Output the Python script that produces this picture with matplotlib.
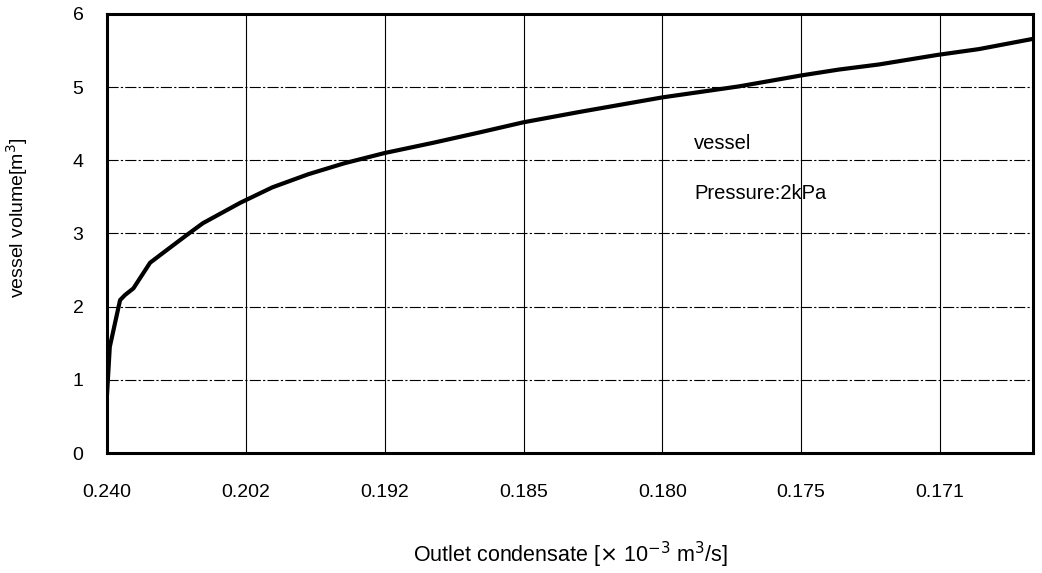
import matplotlib.pyplot as plt

plt.rcParams['font.family'] = ['Liberation Sans', 'DejaVu Sans']

# tick labels (equally spaced on the axis)
tick_labels = ['0.240', '0.202', '0.192', '0.185', '0.180', '0.175', '0.171']

# curve, x in tick-index units
curve_x = [0.0, 0.02, 0.094, 0.13, 0.19, 0.31, 0.40, 0.575, 0.69, 0.96,
           1.19, 1.45, 1.71, 2.0, 2.35, 2.68, 3.0, 3.40, 4.0, 4.55, 5.0,
           5.27, 5.56, 5.98, 6.28, 6.67]
curve_y = [0.8, 1.45, 2.09, 2.16, 2.25, 2.6, 2.73, 2.98, 3.14, 3.42,
           3.63, 3.81, 3.96, 4.10, 4.24, 4.38, 4.52, 4.66, 4.86, 5.01, 5.16,
           5.24, 5.31, 5.44, 5.52, 5.66]

fig = plt.figure(figsize=(10.42, 5.73), dpi=100)
ax = fig.add_axes([0.1027, 0.2094, 0.8887, 0.7662])

ax.plot(curve_x, curve_y, color='black', linewidth=3, solid_joinstyle='round')

ax.set_xlim(0, 6.67)
ax.set_ylim(0, 6)
ax.set_xticks(range(len(tick_labels)))
ax.set_xticklabels(tick_labels)
ax.set_yticks(range(0, 7))

# grid: solid verticals, dash-dot horizontals
for i in range(1, len(tick_labels)):
    ax.axvline(i, color='black', linewidth=0.8, zorder=0)
for j in range(1, 6):
    ax.axhline(j, color='black', linewidth=0.8, linestyle=(0, (10, 2, 2, 2)), zorder=0)

for s in ax.spines.values():
    s.set_linewidth(2.2)

ax.tick_params(axis='both', length=0, labelsize=14)
ax.tick_params(axis='x', pad=22)
ax.tick_params(axis='y', pad=17)

ax.text(4.23, 4.23, 'vessel', fontsize=14.5, va='center', ha='left')
ax.text(4.23, 3.55, 'Pressure:2kPa', fontsize=14.5, va='center', ha='left')

ax.set_ylabel('vessel volume[m$^3$]', fontsize=14)
ax.yaxis.set_label_coords(-0.083, 0.537)
ax.set_xlabel(r'Outlet condensate [$\times$ 10$^{-3}$ m$^3$/s]', fontsize=15.5, labelpad=28)

fig.savefig('out.png', dpi=100)
